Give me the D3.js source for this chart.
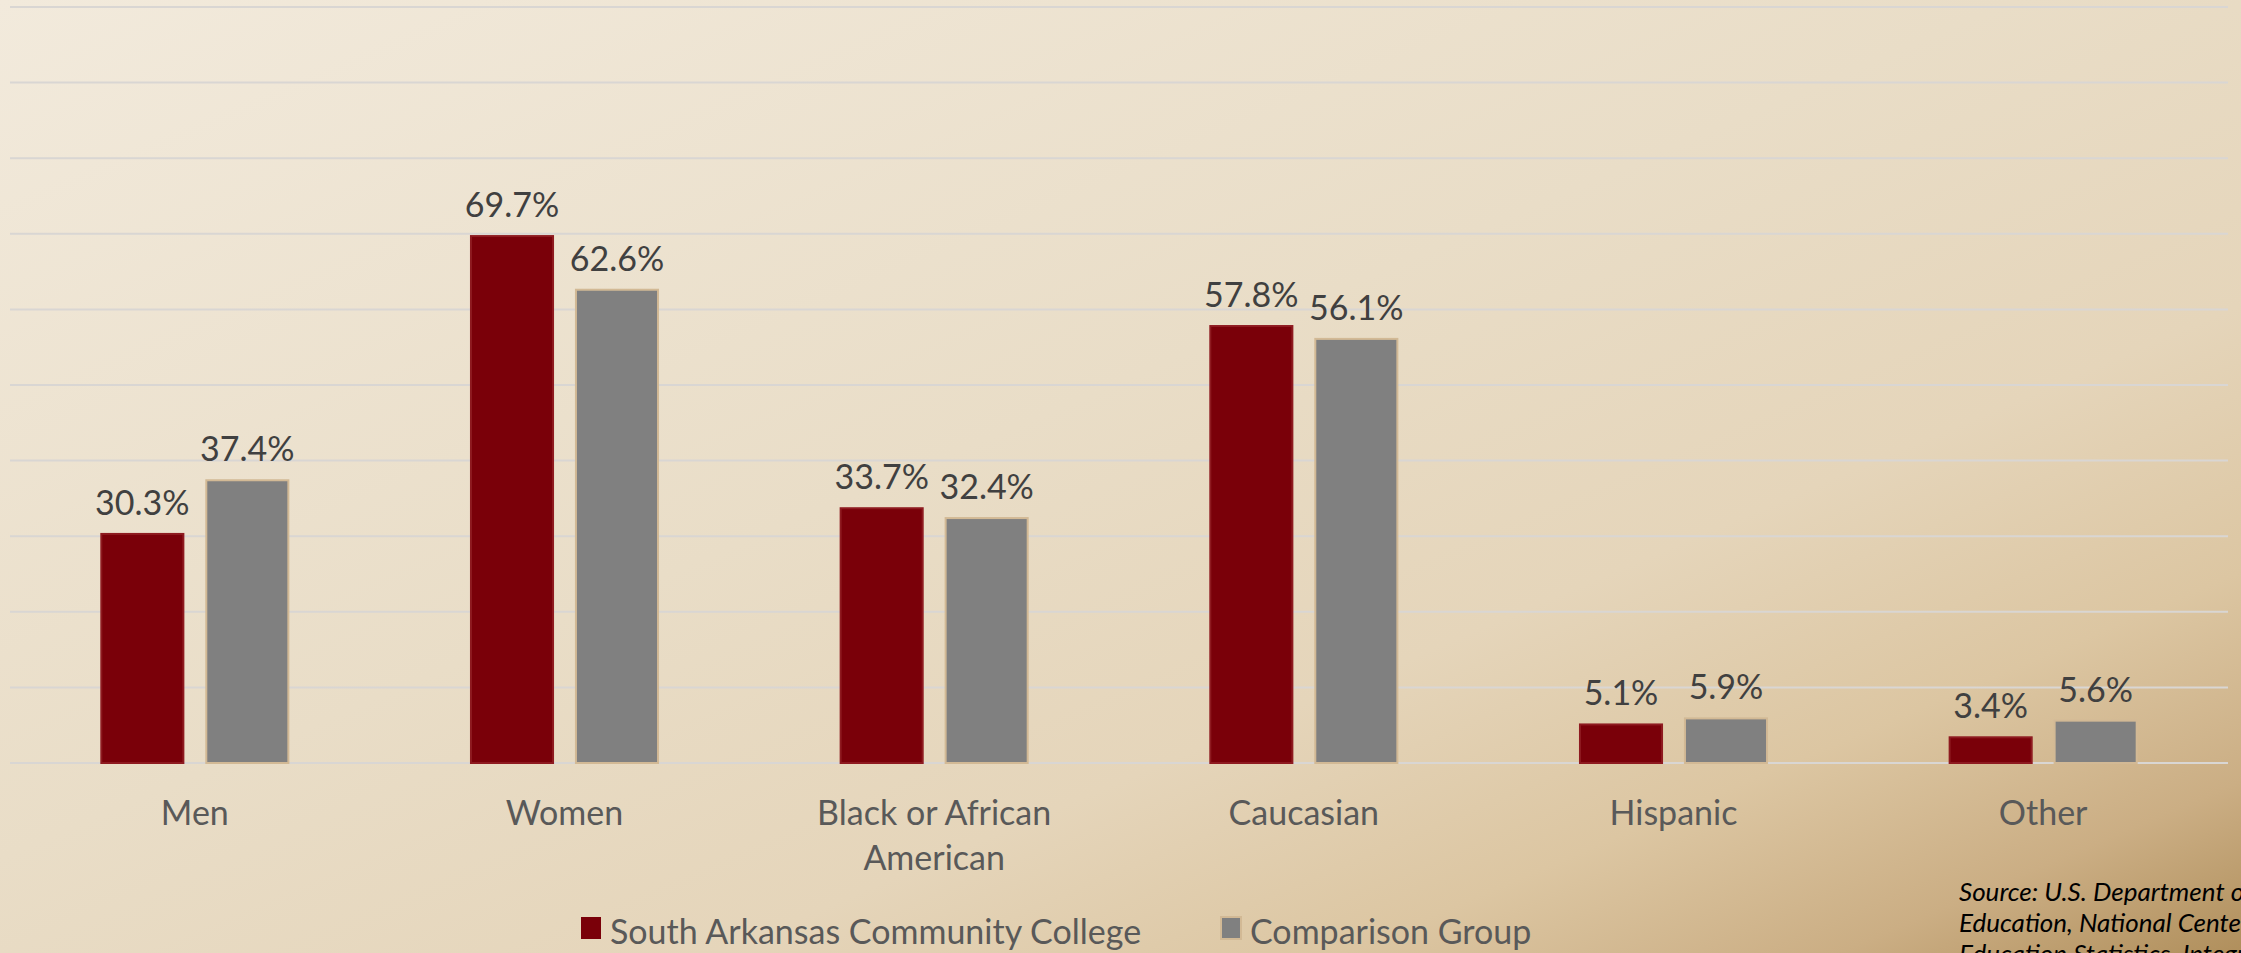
<!DOCTYPE html>
<html><head><meta charset="utf-8">
<script src="https://cdn.jsdelivr.net/npm/d3@7"></script>
<style>html,body{margin:0;padding:0;overflow:hidden;}svg{display:block;}</style>
</head><body>
<svg id="chart" width="2241" height="953"></svg>
<script>
const categories = ["Men", "Women", "Black or African American", "Caucasian", "Hispanic", "Other"];
const categoryLines = [["Men"], ["Women"], ["Black or African", "American"], ["Caucasian"], ["Hispanic"], ["Other"]];
const seriesNames = ["South Arkansas Community College", "Comparison Group"];
const collegeValues = [30.3, 69.7, 33.7, 57.8, 5.1, 3.4];
const comparisonValues = [37.4, 62.6, 32.4, 56.1, 5.9, 5.6];
const gridTicks = [0, 10, 20, 30, 40, 50, 60, 70, 80, 90, 100];
const sourceLines = ["Source: U.S. Department of", "Education, National Center for", "Education Statistics, Integrated Postsecondary"];

const W = 2241, H = 953;
const svg = d3.select("#chart");
const defs = svg.append("defs");
const grad = defs.append("linearGradient").attr("id", "bg")
  .attr("x1", 0).attr("y1", 0).attr("x2", 1).attr("y2", 1);
[[0, "#f2eadc"], [0.45, "#e9ddc7"], [0.66, "#e5d5ba"], [0.8, "#dcc6a2"], [0.91, "#cbae84"], [1, "#b08f5c"]]
  .forEach(([o, c]) => grad.append("stop").attr("offset", o).attr("stop-color", c));
svg.append("rect").attr("width", W).attr("height", H).attr("fill", "url(#bg)");

const x0 = d3.scaleBand().domain(categories).range([10, 2228]).paddingInner(0).paddingOuter(0);
const bw = x0.bandwidth();
const barW = bw * 0.222, gap = bw * 0.062;
const y = d3.scaleLinear().domain([0, 100]).range([763, 7]);

const fontFam = "Lato, 'Open Sans', sans-serif";

// grid
svg.append("g").selectAll("line").data(gridTicks).join("line")
  .attr("x1", 10).attr("x2", 2228)
  .attr("y1", d => y(d)).attr("y2", d => y(d))
  .attr("stroke", "#d9d6d3").attr("stroke-width", 2);

const series = [
  {name: seriesNames[0], values: collegeValues, fill: "#7a0009", stroke: "#8e1a20", off: -gap / 2 - barW},
  {name: seriesNames[1], values: comparisonValues, fill: "#808080", stroke: "#d2b995", off: gap / 2}
];

series.forEach(s => {
  const g = svg.append("g");
  g.selectAll("rect").data(categories).join("rect")
    .attr("x", (c) => x0(c) + bw / 2 + s.off)
    .attr("y", (c, i) => y(s.values[i]))
    .attr("width", barW)
    .attr("height", (c, i) => y(0) - y(s.values[i]))
    .attr("fill", s.fill)
    .attr("stroke", s.stroke).attr("stroke-width", 2);
  g.selectAll("text").data(categories).join("text")
    .attr("x", (c) => x0(c) + bw / 2 + s.off + barW / 2)
    .attr("y", (c, i) => y(s.values[i]) - 19)
    .attr("text-anchor", "middle")
    .attr("font-family", fontFam).attr("font-size", 34)
    .attr("fill", "#404040")
    .text((c, i) => s.values[i].toFixed(1) + "%");
});

// category labels
const cl = svg.append("g");
categories.forEach((c, i) => {
  const t = cl.append("text").attr("text-anchor", "middle")
    .attr("font-family", fontFam).attr("font-size", 34).attr("fill", "#595959");
  categoryLines[i].forEach((ln, j) => {
    t.append("tspan").attr("x", x0(c) + bw / 2).attr("y", 825 + j * 45).text(ln);
  });
});

// legend
const lg = svg.append("g");
lg.append("rect").attr("x", 581).attr("y", 917).attr("width", 20).attr("height", 22).attr("fill", "#7a0009");
lg.append("text").attr("x", 610).attr("y", 944).attr("font-family", fontFam).attr("font-size", 34).attr("fill", "#595959").text(seriesNames[0]);
lg.append("rect").attr("x", 1221).attr("y", 917).attr("width", 20).attr("height", 22).attr("fill", "#808080").attr("stroke", "#d2b995").attr("stroke-width", 2);
lg.append("text").attr("x", 1250).attr("y", 944).attr("font-family", fontFam).attr("font-size", 34).attr("fill", "#595959").text(seriesNames[1]);

// source
const src = svg.append("text").attr("font-family", fontFam).attr("font-style", "italic")
  .attr("font-size", 26).attr("fill", "#000");
sourceLines.forEach((ln, j) => src.append("tspan").attr("x", 1959).attr("y", 901 + j * 31).text(ln));
</script>
</body></html>
